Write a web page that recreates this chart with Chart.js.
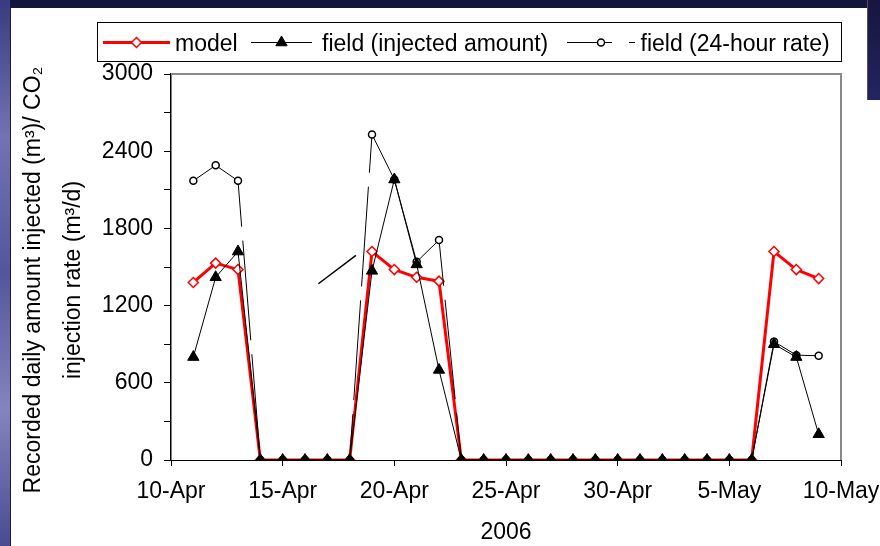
<!DOCTYPE html>
<html>
<head>
<meta charset="utf-8">
<script src="https://cdn.jsdelivr.net/npm/chart.js@4.4.0/dist/chart.umd.min.js"></script>
<style>
  html, body { margin: 0; padding: 0; }
  body {
    width: 880px; height: 546px; overflow: hidden; position: relative;
    background: linear-gradient(180deg, #14143c 0%, #1f1f56 35%, #2a2a68 100%);
  }
  #edge {
    position: absolute; left: 0; top: 0; width: 10px; height: 546px;
    background: linear-gradient(180deg, #3a3a80 0%, #7272b4 25%, #55559c 50%, #8484c0 75%, #4a4a92 100%);
  }
  #panel {
    position: absolute; left: 10px; top: 8px; width: 870px; height: 538px;
    background: #ffffff; box-sizing: border-box;
    border-left: 1px solid #1a1a3a;
  }
  #corner {
    position: absolute; left: 867px; top: 0; width: 13px; height: 100px; box-sizing: border-box;
    background: linear-gradient(180deg, #16163e, #242460);
    border-left: 1px solid #505060;
  }
  #chart { position: absolute; left: 0; top: 0; width: 880px; height: 546px; }
</style>
</head>
<body>
<div id="edge"></div>
<div id="panel"></div>
<div id="corner"></div>
<canvas id="chart" width="880" height="546"></canvas>
<script>
// ---- data -------------------------------------------------------------
// x values are day numbers counted from 1 April 2006 (31 = 1 May)
const dayTickLabels = ['10-Apr', '15-Apr', '20-Apr', '25-Apr', '30-Apr', '5-May', '10-May'];
const days = [11, 12, 13, 14, 15, 16, 17, 18, 19, 20, 21, 22, 23, 24, 25, 26, 27, 28, 29,
              30, 31, 32, 33, 34, 35, 36, 37, 38, 39];
const modelRate = [1380, 1530, 1480, 0, 0, 0, 0, 0, 1620, 1480, 1420, 1390,
                   0, 0, 0, 0, 0, 0, 0, 0, 0, 0, 0, 0, 0, 0, 1620, 1480, 1410];
const injectedAmount = [800, 1420, 1620, 0, 0, 0, 0, 0, 1470, 2180, 1520, 700,
                        0, 0, 0, 0, 0, 0, 0, 0, 0, 0, 0, 0, 0, 0, 900, 800, 200];
const rate24h = [2170, 2290, 2170, 0, 0, 0, 0, 0, 2530, 2180, 1540, 1710,
                 0, 0, 0, 0, 0, 0, 0, 0, 0, 0, 0, 0, 0, 0, 920, 815, 810];
// short free-standing line between the first two injection periods
const segmentDays = [16.6, 18.28];
const segmentValues = [1370, 1590];

const seriesNames = ['model', 'field (injected amount)', 'field (24-hour rate)'];
const yTitleLines = ['Recorded daily amount injected (m\u00B3)/ CO\u2082', 'injection rate (m\u00B3/d)'];
const xTitle = '2006';

// ---- helpers ------------------------------------------------------------
const FONT = '"Liberation Sans", Arial, Helvetica, sans-serif';
const toPoints = (xs, ys) => xs.map((x, i) => ({ x: x, y: ys[i] }));

const styles = {
  model:    { color: '#ff0000', width: 3, pointStyle: 'rectRot', radius: 5, pointFill: '#ffffff', pointBorder: 1.5 },
  injected: { color: '#000000', width: 1, pointStyle: 'triangle', radius: 6.5, pointFill: '#000000', pointBorder: 1 },
  rate:     { color: '#000000', width: 1, pointStyle: 'circle', radius: 3.5, pointFill: '#ffffff', pointBorder: 1.5,
              dash: [100, 14], dashOffset: 54, legendDash: [45, 17] }
};

function lineDataset(label, data, s, order) {
  const ds = {
    label: label, data: data, order: order,
    borderColor: s.color, borderWidth: s.width, borderDash: [],
    borderJoinStyle: 'round', tension: 0, fill: false,
    pointStyle: s.pointStyle, pointRadius: s.radius, pointHoverRadius: s.radius,
    pointBackgroundColor: s.pointFill, pointBorderColor: s.color, pointBorderWidth: s.pointBorder
  };
  if (s.dash) {
    // long dashes only show up on the long drops and rises; short hops stay solid
    const isLong = (c) => Math.hypot(c.p1.x - c.p0.x, c.p1.y - c.p0.y) > 150;
    ds.segment = {
      borderDash: (c) => (isLong(c) ? s.dash : undefined),
      borderDashOffset: (c) => (isLong(c) ? s.dashOffset : undefined)
    };
  }
  return ds;
}

function drawMarker(ctx, s, x, y) {
  ctx.save();
  ctx.setLineDash([]);
  ctx.fillStyle = s.pointFill;
  ctx.strokeStyle = s.color;
  ctx.lineWidth = s.pointBorder;
  Chart.helpers.drawPoint(ctx, { pointStyle: s.pointStyle, radius: s.radius, borderWidth: s.pointBorder, rotation: 0 }, x, y);
  ctx.restore();
}

// grey frame on the top and right sides of the plot area
const plotFrame = {
  id: 'plotFrame',
  beforeDatasetsDraw(chart) {
    const { ctx, chartArea: a } = chart;
    ctx.save();
    ctx.strokeStyle = '#8a8a8a';
    ctx.lineWidth = 2;
    ctx.beginPath();
    ctx.moveTo(a.left, a.top);
    ctx.lineTo(a.right, a.top);
    ctx.lineTo(a.right, a.bottom);
    ctx.stroke();
    ctx.restore();
  }
};

// boxed legend with line + marker samples
const boxedLegend = {
  id: 'boxedLegend',
  afterDraw(chart) {
    const ctx = chart.ctx;
    const box = { left: 97, top: 22, right: 841, bottom: 61 };
    const midY = 42.5;
    ctx.save();
    ctx.fillStyle = '#ffffff';
    ctx.fillRect(box.left, box.top, box.right - box.left, box.bottom - box.top);
    ctx.strokeStyle = '#000000';
    ctx.lineWidth = 1;
    ctx.strokeRect(box.left + 0.5, box.top + 0.5, box.right - box.left, box.bottom - box.top);

    const entries = [
      { s: styles.model,    x0: 103, x1: 170, textX: 175,   dash: [] },
      { s: styles.injected, x0: 251, x1: 312, textX: 322,   dash: [] },
      { s: styles.rate,     x0: 567, x1: 635, textX: 640.5, dash: styles.rate.legendDash }
    ];
    ctx.font = '23px ' + FONT;
    ctx.textBaseline = 'alphabetic';
    ctx.textAlign = 'left';
    entries.forEach((e, i) => {
      ctx.save();
      ctx.strokeStyle = e.s.color;
      ctx.lineWidth = e.s.width;
      ctx.setLineDash(e.dash);
      ctx.beginPath();
      ctx.moveTo(e.x0, midY);
      ctx.lineTo(e.x1, midY);
      ctx.stroke();
      ctx.restore();
      drawMarker(ctx, e.s, (e.x0 + e.x1) / 2, midY);
      ctx.fillStyle = '#000000';
      ctx.fillText(seriesNames[i], e.textX, 50.5);
    });
    ctx.restore();
  }
};

// two-line rotated y-axis title
const yAxisTitle = {
  id: 'yAxisTitle',
  afterDraw(chart) {
    const ctx = chart.ctx;
    ctx.save();
    ctx.font = '23px ' + FONT;
    ctx.fillStyle = '#000000';
    ctx.textAlign = 'center';
    ctx.textBaseline = 'middle';
    const xs = [34, 74];
    yTitleLines.forEach((t, i) => {
      ctx.save();
      ctx.translate(xs[i], 280);
      ctx.rotate(-Math.PI / 2);
      ctx.fillText(t, 0, 0);
      ctx.restore();
    });
    ctx.restore();
  }
};

new Chart(document.getElementById('chart'), {
  type: 'line',
  data: {
    datasets: [
      lineDataset(seriesNames[0], toPoints(days, modelRate), styles.model, 3),
      lineDataset(seriesNames[1], toPoints(days, injectedAmount), styles.injected, 1),
      lineDataset(seriesNames[2], toPoints(days, rate24h), styles.rate, 2),
      {
        label: '', data: toPoints(segmentDays, segmentValues), order: 4,
        borderColor: '#000000', borderWidth: 1.5, pointRadius: 0, fill: false
      }
    ]
  },
  options: {
    responsive: false,
    devicePixelRatio: 1,
    animation: false,
    events: [],
    layout: { padding: { left: 0, right: 39, top: 74, bottom: 0 } },
    plugins: { legend: { display: false }, tooltip: { enabled: false } },
    scales: {
      x: {
        type: 'linear', min: 10, max: 40,
        afterFit(scale) {
          scale.height = 86;
          scale.paddingLeft = 0;
          scale.paddingRight = 0;
        },
        ticks: {
          stepSize: 5, autoSkip: false, maxRotation: 0, padding: 12,
          color: '#000000', font: { family: FONT, size: 23 },
          callback: (v) => dayTickLabels[Math.round((v - 10) / 5)]
        },
        grid: { drawOnChartArea: false, drawTicks: true, tickLength: 6, color: '#000000', lineWidth: 1 },
        border: { display: true, color: '#000000', width: 1 },
        title: { display: true, text: xTitle, color: '#000000', font: { family: FONT, size: 23 }, padding: { top: 0, bottom: 0 } }
      },
      y: {
        min: 0, max: 3000,
        afterFit(scale) {
          scale.width = 171;
          scale.paddingTop = 0;
          scale.paddingBottom = 0;
        },
        ticks: {
          stepSize: 300, padding: 11, color: '#000000', font: { family: FONT, size: 23 },
          callback: (v) => (v % 600 === 0 ? String(v) : '')
        },
        grid: { drawOnChartArea: false, drawTicks: true, tickLength: 7, color: '#000000', lineWidth: 1 },
        border: { display: true, color: '#000000', width: 1.5 }
      }
    }
  },
  plugins: [plotFrame, boxedLegend, yAxisTitle]
});
</script>
</body>
</html>
